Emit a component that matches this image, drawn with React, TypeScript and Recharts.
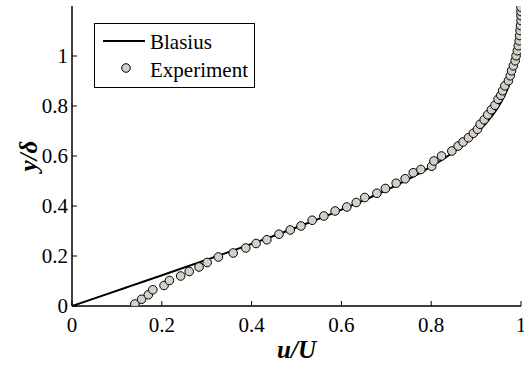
import {
  ComposedChart,
  Line,
  Scatter,
  XAxis,
  YAxis,
  Legend,
} from "recharts";

// Blasius profile (standard table, eta = 0..6 step 0.2), y/delta = eta / 4.91
const blasiusY = [
  0, 0.0407, 0.0815, 0.1222, 0.1629, 0.2037, 0.2444, 0.2851, 0.3259, 0.3666, 0.4073, 0.4481,
  0.4888, 0.5295, 0.5703, 0.611, 0.6517, 0.6925, 0.7332, 0.7739, 0.8147, 0.8554, 0.8961, 0.9369,
  0.9776, 1.0183, 1.0591, 1.0998, 1.1405, 1.1813, 1.222,
];
const blasiusU = [
  0, 0.06641, 0.13277, 0.19894, 0.26471, 0.32979, 0.39378, 0.45627, 0.51676, 0.57477, 0.62977,
  0.68132, 0.72899, 0.77246, 0.81152, 0.84605, 0.87609, 0.90177, 0.92333, 0.94112, 0.95552,
  0.96696, 0.97587, 0.98269, 0.98779, 0.99155, 0.99425, 0.99616, 0.99748, 0.99838, 0.99898,
];

const expU = [
  0.14, 0.155, 0.17, 0.18, 0.205, 0.217, 0.242, 0.261, 0.283, 0.301, 0.326, 0.359, 0.387, 0.41,
  0.434, 0.461, 0.486, 0.51, 0.535, 0.561, 0.586, 0.612, 0.633, 0.652, 0.679, 0.698, 0.722, 0.742,
  0.76, 0.777, 0.801, 0.806, 0.823, 0.846, 0.86, 0.871, 0.883, 0.894, 0.903, 0.909, 0.918, 0.926,
  0.934, 0.942, 0.949, 0.955, 0.959, 0.964, 0.972, 0.976, 0.979, 0.983, 0.987, 0.989, 0.992, 0.994,
  0.996, 0.997, 0.998, 0.999, 1.0, 1.0, 1.0, 1.0,
];
const expY = [
  0.008, 0.027, 0.045, 0.065, 0.082, 0.102, 0.12, 0.138, 0.156, 0.174, 0.196, 0.212, 0.232, 0.25,
  0.265, 0.287, 0.304, 0.32, 0.343, 0.36, 0.38, 0.396, 0.414, 0.434, 0.451, 0.47, 0.491, 0.509,
  0.533, 0.546, 0.559, 0.58, 0.6, 0.62, 0.64, 0.656, 0.673, 0.691, 0.707, 0.727, 0.745, 0.765,
  0.785, 0.803, 0.827, 0.843, 0.861, 0.881, 0.901, 0.921, 0.941, 0.961, 0.981, 1.001, 1.021, 1.041,
  1.061, 1.082, 1.102, 1.122, 1.142, 1.162, 1.178, 1.195,
];

const xTicks = [0, 0.2, 0.4, 0.6, 0.8, 1];
const yTicks = [0, 0.2, 0.4, 0.6, 0.8, 1];

const blasiusData = blasiusU.map((u, i) => ({ u, y: blasiusY[i] }));
const expData = expU.map((u, i) => ({ u, y: expY[i] }));

const FONT = "Liberation Serif, Tinos, Times New Roman, DejaVu Serif, serif";
const MARKER_FILL = "#d4d0c8";
const axisLine = { stroke: "#000", strokeWidth: 1.5 };
const tickLine = { stroke: "#000", strokeWidth: 1 };
const tickStyle = { fontSize: 21, fill: "#000", fontFamily: FONT };

const fmt = (v: number) => String(v);
const blank = () => "";

function Marker(props: any) {
  const { cx, cy } = props;
  if (cx == null || cy == null) return null;
  return <circle cx={cx} cy={cy} r={4.3} fill={MARKER_FILL} stroke="#000" strokeWidth={1} />;
}

function LegendBox() {
  return (
    <svg width={161} height={65} style={{ display: "block" }}>
      <rect x={0.5} y={0.5} width={160} height={64} fill="#fff" stroke="#000" strokeWidth={1} />
      <line x1={9} y1={18} x2={51} y2={18} stroke="#000" strokeWidth={2} />
      <text x={56} y={26} fontSize={21} fontFamily={FONT} fill="#000">
        Blasius
      </text>
      <circle cx={32} cy={45} r={4.3} fill={MARKER_FILL} stroke="#000" strokeWidth={1} />
      <text x={56} y={54} fontSize={21} fontFamily={FONT} fill="#000">
        Experiment
      </text>
    </svg>
  );
}

function YTitle(props: any) {
  const vb = props.viewBox || { x: 0, y: 6, width: 72, height: 300 };
  const cx = vb.x + 28;
  const cy = vb.y + vb.height / 2;
  return (
    <text
      x={cx}
      y={cy}
      transform={`rotate(-90 ${cx} ${cy})`}
      textAnchor="middle"
      dominantBaseline="central"
      fontSize={25}
      fontWeight="bold"
      fontStyle="italic"
      fontFamily={FONT}
      fill="#000"
    >
      y/δ
    </text>
  );
}

export default function App() {
  return (
    <div style={{ position: "fixed", left: 0, top: 0, width: 524, height: 367, background: "#fff", fontFamily: FONT }}>
      <ComposedChart
        width={524}
        height={367}
        margin={{ top: 6, right: 3, left: 0, bottom: 0 }}
      >
        <XAxis
          xAxisId={0}
          type="number"
          dataKey="u"
          domain={[0, 1]}
          ticks={xTicks}
          allowDataOverflow
          height={61}
          axisLine={axisLine}
          tickLine={tickLine}
          tickSize={-5}
          tickMargin={16}
          tick={tickStyle}
          tickFormatter={fmt}
          interval={0}
          label={{
            value: "u/U",
            position: "insideBottom",
            offset: 9,
            style: { fontSize: 25, fontWeight: "bold", fontStyle: "italic", fill: "#000", fontFamily: FONT },
          }}
        />
        <XAxis
          xAxisId="top"
          orientation="top"
          type="number"
          domain={[0, 1]}
          ticks={xTicks}
          allowDataOverflow
          height={0}
          axisLine={axisLine}
          tickLine={tickLine}
          tickSize={-5}
          tickFormatter={blank}
          interval={0}
        />
        <YAxis
          yAxisId={0}
          type="number"
          dataKey="y"
          domain={[0, 1.2]}
          ticks={yTicks}
          allowDataOverflow
          width={72}
          axisLine={axisLine}
          tickLine={tickLine}
          tickSize={-5}
          tickMargin={9}
          tick={tickStyle}
          tickFormatter={fmt}
          interval={0}
          label={<YTitle />}
        />
        <YAxis
          yAxisId="right"
          orientation="right"
          type="number"
          domain={[0, 1.2]}
          ticks={yTicks}
          allowDataOverflow
          width={0}
          axisLine={axisLine}
          tickLine={tickLine}
          tickSize={-5}
          tickFormatter={blank}
          interval={0}
        />
        <Legend
          layout="vertical"
          align="center"
          verticalAlign="middle"
          content={() => <LegendBox />}
          wrapperStyle={{ left: 94, top: 23, width: 161, height: 65 }}
        />
        <Line
          data={blasiusData}
          dataKey="y"
          type="monotone"
          stroke="#000"
          strokeWidth={2}
          dot={false}
          activeDot={false}
          isAnimationActive={false}
          legendType="none"
        />
        <Scatter
          data={expData}
          dataKey="y"
          shape={<Marker />}
          isAnimationActive={false}
          legendType="none"
        />
      </ComposedChart>
    </div>
  );
}
